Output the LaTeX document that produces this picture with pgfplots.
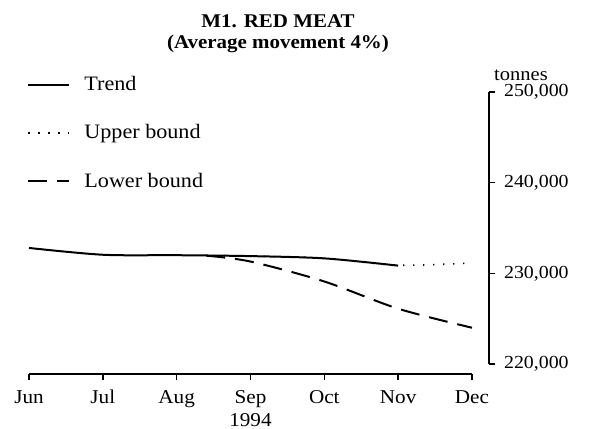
\documentclass[border=0pt]{standalone}
\usepackage{fontspec}
\setmainfont{Liberation Serif}[FakeStretch=1.08]
\usepackage{pgfplots}
\pgfplotsset{compat=1.18}
\begin{document}
\begin{tikzpicture}[font=\fontsize{10.25pt}{12pt}\selectfont]
\path[use as bounding box] (0,0) rectangle (296pt,214pt);
\node[font=\fontsize{9.7pt}{12pt}\selectfont\bfseries] at (139pt,203.5pt) {M1. RED MEAT};
\node[font=\fontsize{9.7pt}{12pt}\selectfont\bfseries] at (139pt,192pt) {(Average movement 4\%)};
\node[font=\fontsize{9.5pt}{12pt}\selectfont] at (260.5pt,176.5pt) {tonnes};
\begin{axis}[
  scale only axis, width=221.5pt, height=141pt,
  at={(14.5pt,27pt)}, anchor=south west,
  xmin=0, xmax=6, ymin=218897, ymax=250000,
  axis x line=bottom, axis y line=none,
  scaled y ticks=false,
  axis line style={-, line width=1pt},
  xtick={0,...,6}, xticklabels={Jun,Jul,Aug,Sep,Oct,Nov,Dec},
  xticklabel style={anchor=base, yshift=-11.5pt, font=\fontsize{9.8pt}{11.5pt}\selectfont},
  tick align=outside, major tick length=3pt,
  tick style={line width=0.8pt, black},
  clip=false,
  legend style={at={(-0.0045,1.064)}, anchor=north west, draw=none, fill=none,
    inner sep=0pt, row sep=13.5pt, font=\fontsize{10.25pt}{12pt}\selectfont,
    nodes={inner sep=1pt},
    /tikz/every odd column/.append style={column sep=6pt}},
  legend cell align=left,
  legend image code/.code={\draw[#1] (0pt,0pt) -- (20.5pt,0pt);},
]
\addplot[black, line width=1pt, smooth, tension=0.5] coordinates {
  (0,232800) (1,232050) (2,232000) (3,231900) (4,231650) (5,230850)};
\addlegendentry{Trend}
\addplot[black, line width=0.8pt, dash pattern=on 0.6pt off 4.4pt, smooth, tension=0.5] coordinates {
  (2.5,231950) (3,231900) (4,231650) (5,230900) (6,231150)};
\addlegendentry{Upper bound}
\addplot[black, line width=1pt, dash pattern=on 9.5pt off 5pt, smooth, tension=0.5] coordinates {
  (2.4,231950) (3,231300) (4,229100) (5,226100) (6,224000)};
\addlegendentry{Lower bound}
\node[anchor=base, font=\fontsize{9.8pt}{11.5pt}\selectfont] at (axis cs:3,218897) [yshift=-26pt] {1994};
\end{axis}
\begin{axis}[
  scale only axis, width=10pt, height=136pt,
  at={(244.5pt,32pt)}, anchor=south east,
  xmin=0, xmax=1, ymin=220000, ymax=250000,
  axis x line=none, axis y line=right,
  scaled y ticks=false,
  axis line style={-, line width=0.75pt},
  ytick={220000,230000,240000,250000},
  yticklabels={{220,000},{230,000},{240,000},{250,000}},
  yticklabel style={font=\fontsize{9.2pt}{12pt}\selectfont, xshift=1pt},
  tick align=outside, major tick length=3pt,
  tick style={line width=0.75pt, black},
]
\end{axis}
\end{tikzpicture}
\end{document}
